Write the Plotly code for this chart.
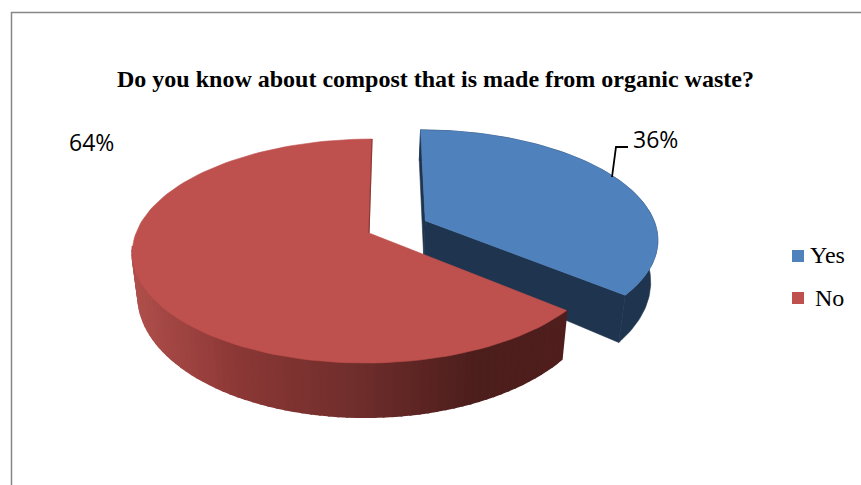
import numpy as np
import plotly.graph_objects as go

TITLE = "Do you know about compost that is made from organic waste?"
labels = ["Yes", "No"]
shares = [36, 64]
colors_top = ["#4F81BD", "#BE504D"]
color_blue_side = "#1F344E"
pct_text = ["36%", "64%"]

W, H = 861, 485

# pie projection, fitted by eye on the picture
CX, CY = 369, 233
RX, RY = 233, 109.1
SKEW = 3.5
PERSP = 0.161
EXPLODE = 0.27
DEPTH = 41


def project(u, v):
    w = 1 + PERSP * v
    return CX + (RX * u + SKEW * v) / w, CY - RY * v / w


def lower(x, y):
    # same point on the bottom face of the pie
    return CX + (x - CX) * 0.975, CY + (y - CY) * 1.1 + DEPTH


def arc(start, end, ou=0.0, ov=0.0, n=120):
    t = np.radians(np.linspace(start, end, n))
    return project(ou + np.sin(t), ov + np.cos(t))


def poly(fig, x, y, color, width=0.6):
    fig.add_trace(go.Scatter(
        x=list(x) + [x[0]], y=list(y) + [y[0]],
        mode="lines", fill="toself", fillcolor=color,
        line=dict(color=color, width=width),
        hoverinfo="skip", showlegend=False,
    ))


def lerp_color(x):
    stops_x = [130, 240, 360, 480, 570]
    stops_r = [176, 140, 112, 76, 80]
    stops_g = [80, 56, 46, 30, 30]
    stops_b = [76, 54, 44, 28, 30]
    return "rgb(%d,%d,%d)" % (np.interp(x, stops_x, stops_r),
                              np.interp(x, stops_x, stops_g),
                              np.interp(x, stops_x, stops_b))


fig = go.Figure()

yes_angle = shares[0] / sum(shares) * 360
mid = np.radians(yes_angle / 2)
ou, ov = EXPLODE * np.sin(mid), EXPLODE * np.cos(mid)

# ---- Yes slice (pulled out)
ax, ay = project(ou, ov)
bx, by = arc(0, yes_angle, ou, ov)
lx, ly = lower(bx, by)
lax, lay = lower(ax, ay)
poly(fig, [bx[0], ax, lax, lx[0]], [by[0], ay, lay, ly[0]], color_blue_side)
poly(fig, [ax, bx[-1], lx[-1], lax], [ay, by[-1], ly[-1], lay], color_blue_side)
poly(fig, np.r_[bx, lx[::-1]], np.r_[by, ly[::-1]], color_blue_side)
poly(fig, np.r_[ax, bx], np.r_[ay, by], colors_top[0])

# ---- No slice, only the part of the wall that faces us
rx, ry = arc(yes_angle, 360)
ax, ay = project(0, 0)
qx, qy = lower(rx, ry)
for i in range(0, len(rx) - 1):
    if ry[i] < ay + 14:
        continue
    poly(fig, [rx[i], rx[i + 1], qx[i + 1], qx[i]], [ry[i], ry[i + 1], qy[i + 1], qy[i]],
         lerp_color(rx[i]), width=2)
poly(fig, np.r_[ax, rx], np.r_[ay, ry], colors_top[1])
# thin wall seen along the top cut
fig.add_trace(go.Scatter(x=[rx[-1], ax], y=[ry[-1], ay], mode="lines",
                         line=dict(color="#8C3A38", width=1.2),
                         hoverinfo="skip", showlegend=False))

# ---- leader line of the 36% label
fig.add_trace(go.Scatter(x=[612, 616, 628], y=[177, 147, 147], mode="lines",
                         line=dict(color="#000000", width=1.8),
                         hoverinfo="skip", showlegend=False))

font_label = dict(family="Open Sans", size=23, color="#000000")
font_serif = dict(family="Liberation Serif", size=24, color="#000000")

annotations = [
    dict(x=435.5, y=78.5, text="<b>%s</b>" % TITLE,
         font=dict(family="Liberation Serif", size=24, color="#000000")),
    dict(x=655, y=139, text=pct_text[0], font=font_label),
    dict(x=91, y=142, text=pct_text[1], font=font_label),
    dict(x=808, y=255, text=labels[0], font=font_serif, xanchor="left"),
    dict(x=813, y=298, text=labels[1], font=font_serif, xanchor="left"),
]
for a in annotations:
    a.update(xref="x", yref="y", showarrow=False)
    a.setdefault("xanchor", "center")
    a["yanchor"] = "middle"

shapes = [
    # chart frame
    dict(type="path", path="M 11.5 485 L 11.5 12.5 L 861 12.5", line=dict(color="#868686", width=1.5)),
    dict(type="rect", x0=792, x1=804, y0=250, y1=262, fillcolor=colors_top[0], line_width=0),
    dict(type="rect", x0=792, x1=804, y0=292, y1=304, fillcolor=colors_top[1], line_width=0),
]
for s in shapes:
    s.update(xref="x", yref="y", layer="above")

fig.update_layout(
    width=W, height=H,
    margin=dict(l=0, r=0, t=0, b=0),
    paper_bgcolor="white", plot_bgcolor="white",
    showlegend=False,
    xaxis=dict(range=[0, W], visible=False, fixedrange=True),
    yaxis=dict(range=[H, 0], visible=False, fixedrange=True),
    annotations=annotations, shapes=shapes,
)
fig.write_html("out.html", config={"displayModeBar": False},
               post_script="document.body.style.margin='0';document.body.style.overflow='hidden';")
